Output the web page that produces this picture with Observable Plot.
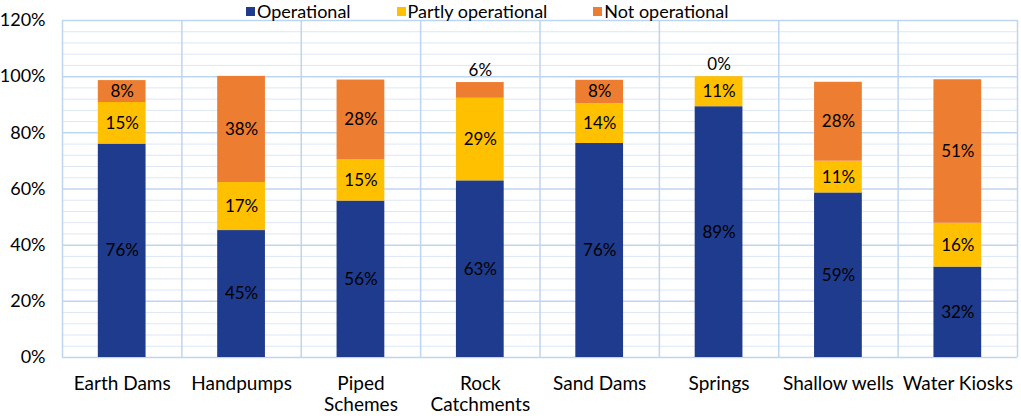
<!DOCTYPE html>
<html><head><meta charset="utf-8">
<script src="https://cdn.jsdelivr.net/npm/d3@7"></script>
<script src="https://cdn.jsdelivr.net/npm/@observablehq/plot@0.6"></script>
<style>
body{margin:0;background:#fff;font-family:Lato,sans-serif;}
#wrap{position:relative;width:1021px;height:416px;}
#legend{position:absolute;top:1px;left:246px;display:flex;font-size:18px;line-height:20px;color:#000;z-index:2;}
.item{display:flex;align-items:center;margin-right:46px;}
.sw{width:9px;height:9px;margin-right:2px;margin-top:1px;}
</style></head><body><div id="wrap"><div id="legend"></div></div>
<script>
const categories = ["Earth Dams","Handpumps","Piped\nSchemes","Rock\nCatchments","Sand Dams","Springs","Shallow wells","Water Kiosks"];
const operational = [76.0,45.2,55.7,62.9,76.2,89.3,58.6,32.2];
const partly      = [14.8,17.1,14.8,29.4,14.2,10.7,11.3,15.6];
const notOp       = [7.8,37.8,28.3,5.6,8.3,0,28.1,51.1];
const series = ["Operational","Partly operational","Not operational"];
const colors = ["#1F3B8E","#FFC000","#ED7D31"];
const yTicks = [0,20,40,60,80,100,120];
const minorTicks = d3.range(0,121,4).filter(v => v % 20 !== 0);

const seriesValues = [operational, partly, notOp];
const rows = [];
categories.forEach((c,i) => {
  let base = 0;
  seriesValues.forEach((vals,k) => {
    const v = vals[i];
    rows.push({i, cat:c, status:series[k], y1:base, y2:base+v, v, outside: v < 7});
    base += v;
  });
});
const catRows = categories.map((c,i) => ({i, c}));

const legend = document.getElementById("legend");
series.forEach((s,k) => {
  const it = document.createElement("div"); it.className = "item";
  const sw = document.createElement("div"); sw.className = "sw"; sw.style.background = colors[k];
  const tx = document.createElement("span"); tx.textContent = s;
  it.appendChild(sw); it.appendChild(tx); legend.appendChild(it);
});

const chart = Plot.plot({
  width: 1021, height: 416,
  marginTop: 20, marginLeft: 62, marginRight: 4, marginBottom: 59,
  style: {fontFamily: "Lato, sans-serif", fontSize: "16px", color: "#000", background: "#fff", overflow: "visible"},
  x: {type: "linear", domain: [0, categories.length], axis: null},
  y: {domain: [0, 120]},
  color: {domain: series, range: colors},
  marks: [
    Plot.ruleY(minorTicks, {stroke: "#DCE7F6", strokeWidth: 1}),
    Plot.ruleY(yTicks, {stroke: "#BED5F0", strokeWidth: 1.5}),
    Plot.ruleX(d3.range(categories.length + 1), {stroke: "#BED5F0", strokeWidth: 1.5}),
    Plot.rectY(rows, {x1: d => d.i + 0.3, x2: d => d.i + 0.7, y1: "y1", y2: "y2", fill: "status"}),
    Plot.text(rows.filter(d => !d.outside), {
      x: d => d.i + 0.5, y: d => (d.y1 + d.y2) / 2,
      text: d => Math.round(d.v) + "%", fontSize: 17, fill: "#000"
    }),
    Plot.text(rows.filter(d => d.outside), {
      x: d => d.i + 0.5, y: "y2", dy: -12,
      text: d => Math.round(d.v) + "%", fontSize: 17, fill: "#000"
    }),
    Plot.axisY({ticks: yTicks, tickFormat: d => d + "%", tickSize: 0, tickPadding: 17, fontSize: 18, label: null}),
    Plot.text(catRows, {x: d => d.i + 0.5, text: "c", frameAnchor: "bottom", lineAnchor: "top", dy: 17, fontSize: 19, lineHeight: 1.12, fill: "#000"})
  ]
});
document.getElementById("wrap").appendChild(chart);
</script></body></html>
